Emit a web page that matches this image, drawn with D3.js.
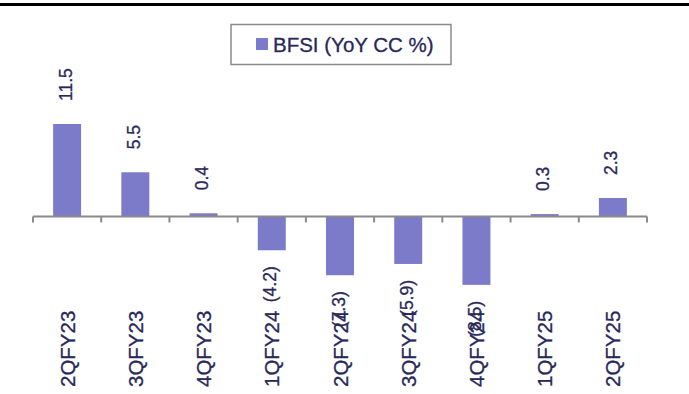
<!DOCTYPE html>
<html><head><meta charset="utf-8">
<script src="https://cdn.jsdelivr.net/npm/d3@7/dist/d3.min.js"></script>
<style>body{margin:0;background:#fff}svg{display:block}</style>
</head><body>
<script>
const categories = ["2QFY23","3QFY23","4QFY23","1QFY24","2QFY24","3QFY24","4QFY24","1QFY25","2QFY25"];
const values = [11.5, 5.5, 0.4, -4.2, -7.3, -5.9, -8.5, 0.3, 2.3];
const seriesName = "BFSI (YoY CC %)";

const W = 689, H = 394;
const barColor = "#7b7bc9", textColor = "#29285a";
const svg = d3.select("body").append("svg").attr("width", W).attr("height", H);
const font = "'Liberation Sans', Arial, sans-serif";

// top rule
svg.append("line").attr("x1",0).attr("x2",W).attr("y1",4.5).attr("y2",4.5)
  .attr("stroke","#000").attr("stroke-width",3);

const x = d3.scaleBand().domain(categories).range([33, 647]).paddingInner(0.59).paddingOuter(0.295);
const y = d3.scaleLinear().domain([0, 11.5]).range([216.5, 124]);

svg.selectAll("rect.bar").data(values).join("rect").attr("class","bar")
  .attr("x",(d,i)=>x(categories[i]))
  .attr("width",x.bandwidth())
  .attr("y",d=>Math.min(y(d),y(0)))
  .attr("height",d=>Math.abs(y(d)-y(0)))
  .attr("fill",barColor);

// axis
const axisY = 216.5;
svg.append("line").attr("x1",33).attr("x2",647).attr("y1",axisY).attr("y2",axisY)
  .attr("stroke","#8a8a8a").attr("stroke-width",2);
const step = x.step();
d3.range(categories.length+1).forEach(i=>{
  const tx = 33 + i*step;
  svg.append("line").attr("x1",tx).attr("x2",tx).attr("y1",axisY).attr("y2",axisY+6)
    .attr("stroke","#8a8a8a").attr("stroke-width",2);
});

// category labels
svg.selectAll("text.cat").data(categories).join("text").attr("class","cat")
  .attr("transform",d=>`translate(${x(d)+x.bandwidth()/2},387) rotate(-90)`)
  .attr("text-anchor","start").attr("dominant-baseline","central")
  .attr("font-family",font).attr("font-size",20.5).attr("fill",textColor)
  .attr("stroke",textColor).attr("stroke-width",0.3)
  .text(d=>d);

// value labels
const fmt = d => d < 0 ? `(${Math.abs(d).toFixed(1)})` : d.toFixed(1);
svg.selectAll("text.val").data(values).join("text").attr("class","val")
  .attr("transform",(d,i)=>{
    const cx = x(categories[i])+x.bandwidth()/2 - 1.5;
    const yy = d>=0 ? y(d)-23 : y(d)+16;
    return `translate(${cx},${yy}) rotate(-90)`;
  })
  .attr("text-anchor",d=>d>=0?"start":"end").attr("dominant-baseline","central")
  .attr("font-family",font).attr("font-size",17.5).attr("fill",textColor)
  .attr("stroke",textColor).attr("stroke-width",0.3)
  .text(fmt);

// legend
const lg = svg.append("g");
lg.append("rect").attr("x",231).attr("y",24.5).attr("width",220).attr("height",40)
  .attr("fill","#fff").attr("stroke","#8a8a8a").attr("stroke-width",1.5);
lg.append("rect").attr("x",256).attr("y",38).attr("width",12).attr("height",12).attr("fill",barColor);
lg.append("text").attr("x",273).attr("y",44).attr("dominant-baseline","central")
  .attr("font-family",font).attr("font-size",20.5).attr("fill",textColor)
  .attr("stroke",textColor).attr("stroke-width",0.3).text(seriesName);
</script>
</body></html>
